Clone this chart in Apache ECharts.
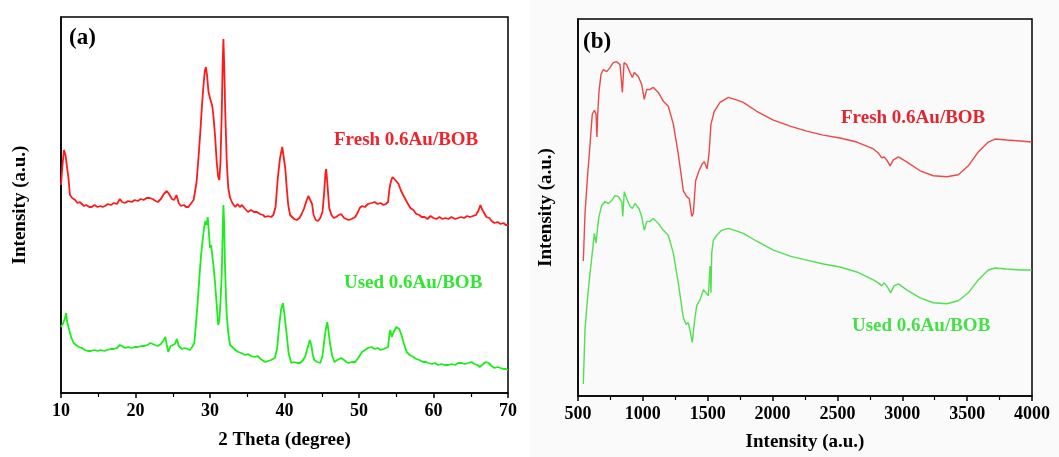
<!DOCTYPE html>
<html>
<head>
<meta charset="utf-8">
<title>XRD and FTIR of 0.6Au/BOB</title>
<script src="https://cdn.jsdelivr.net/npm/echarts@6/dist/echarts.min.js"></script>
<style>
  html, body { margin: 0; padding: 0; background: #ffffff; }
  #chart { width: 1059px; height: 457px; }
</style>
</head>
<body>
<div id="chart"></div>
<script>
// ---- (a) XRD patterns: [2theta (deg), intensity (a.u.)] ----
const xrdFresh = [
  [10.0,208],[10.2,228],[10.4,243],[10.6,238],[10.8,236],[11.0,215],[11.2,198],[11.5,195],[11.9,193],[12.2,190],
  [12.5,191],[12.8,189],[13.1,187],[13.4,188],[13.8,186],[14.1,186],[14.5,188],[14.9,186],[15.3,187],[15.6,186],
  [15.9,187],[16.3,189],[16.7,188],[17.1,190],[17.5,189],[17.9,194],[18.2,191],[18.6,190],[19.0,192],[19.5,191],
  [19.9,193],[20.3,192],[20.7,194],[21.1,193],[21.5,195],[21.9,195],[22.3,194],[22.7,192],[23.0,191],[23.4,194],
  [23.8,199],[24.2,202],[24.5,199],[24.9,194],[25.2,193],[25.5,198],[25.8,190],[26.1,187],[26.5,188],[26.8,186],
  [27.1,186],[27.4,189],[27.8,193],[28.2,211],[28.5,240],[28.7,261],[28.9,285],[29.1,305],[29.3,322],[29.45,326],
  [29.6,318],[29.8,301],[30.0,295],[30.15,291],[30.3,287],[30.45,278],[30.7,255],[30.9,231],[31.1,216],[31.25,213],
  [31.4,230],[31.57,278],[31.7,330],[31.8,354],[31.9,330],[32.05,280],[32.25,231],[32.45,205],[32.7,195],[33.0,190],
  [33.4,186],[33.7,189],[34.0,186],[34.3,188],[34.6,185],[35.1,181],[35.5,183],[35.9,181],[36.3,181],[36.7,179],
  [37.1,178],[37.4,176],[37.8,177],[38.2,176],[38.5,178],[38.8,186],[39.1,215],[39.4,235],[39.7,246],[39.9,244],
  [40.1,225],[40.3,205],[40.5,188],[40.75,178],[41.0,176],[41.3,174],[41.65,173],[42.0,175],[42.3,179],[42.6,184],
  [42.9,191],[43.2,197],[43.45,198],[43.7,189],[43.9,178],[44.2,173],[44.5,172],[44.8,175],[45.1,181],[45.3,198],
  [45.5,220],[45.6,224],[45.8,205],[46.0,185],[46.3,178],[46.6,175],[46.9,176],[47.3,178],[47.6,179],[48.0,175],
  [48.3,174],[48.6,173],[49.0,174],[49.5,176],[49.8,180],[50.1,185],[50.4,187],[50.8,186],[51.2,189],[51.7,190],
  [52.1,191],[52.5,189],[52.9,190],[53.3,188],[53.6,189],[53.9,191],[54.1,205],[54.3,212],[54.5,216],[54.7,214],
  [55.0,212],[55.3,209],[55.6,203],[56.0,197],[56.2,195],[56.5,190],[56.9,185],[57.3,183],[57.7,179],[58.1,178],
  [58.4,176],[58.8,176],[59.2,174],[59.6,177],[60.0,175],[60.4,174],[60.8,176],[61.2,174],[61.6,175],[62.0,174],
  [62.4,176],[62.9,174],[63.3,175],[63.7,176],[64.1,175],[64.5,177],[64.9,176],[65.3,177],[65.7,178],[66.0,182],
  [66.3,188],[66.5,184],[66.8,180],[67.1,176],[67.5,175],[67.8,172],[68.2,170],[68.6,171],[69.0,169],[69.4,170],
  [69.7,168],[70.0,168]
];
const xrdUsed = [
  [10.0,66],[10.3,70],[10.5,74],[10.7,80],[10.8,72],[10.95,70],[11.1,63],[11.4,55],[11.7,50],[12.0,48],
  [12.4,46],[12.8,45],[13.2,43],[13.6,42],[14.0,42],[14.5,43],[14.9,42],[15.3,43],[15.8,42],[16.2,43],
  [16.7,44],[17.1,44],[17.5,45],[17.9,48],[18.2,47],[18.6,45],[19.0,46],[19.5,45],[19.9,46],[20.3,46],
  [20.8,47],[21.2,47],[21.6,48],[22.0,50],[22.2,51],[22.6,48],[23.0,47],[23.4,49],[23.8,53],[24.0,56],
  [24.2,48],[24.4,41],[24.7,47],[25.0,48],[25.3,49],[25.55,54],[25.8,47],[26.2,44],[26.6,45],[27.0,44],
  [27.3,43],[27.6,46],[27.9,50],[28.1,68],[28.35,91],[28.6,118],[28.8,138],[29.0,152],[29.2,165],[29.4,172],
  [29.55,168],[29.7,176],[29.85,160],[30.0,145],[30.15,148],[30.3,138],[30.5,125],[30.7,108],[30.9,88],[31.1,68],
  [31.25,72],[31.4,90],[31.57,118],[31.7,160],[31.8,188],[31.9,170],[32.0,130],[32.15,95],[32.25,78],[32.45,60],
  [32.7,48],[33.0,46],[33.4,43],[33.8,41],[34.2,40],[34.7,38],[35.1,39],[35.5,37],[36.0,36],[36.4,37],
  [36.8,34],[37.4,31],[37.8,32],[38.2,33],[38.7,35],[39.0,44],[39.3,68],[39.55,84],[39.8,90],[40.0,78],
  [40.3,58],[40.55,40],[40.9,30],[41.3,31],[41.7,30],[42.1,30],[42.5,33],[42.8,37],[43.1,45],[43.4,53],
  [43.6,48],[43.8,38],[44.0,33],[44.4,31],[44.8,30],[45.1,37],[45.35,53],[45.55,64],[45.75,71],[45.9,62],
  [46.1,50],[46.4,37],[46.7,31],[47.1,33],[47.6,35],[48.0,33],[48.3,31],[48.6,30],[49.0,31],[49.5,31],
  [49.9,35],[50.4,41],[50.8,43],[51.2,45],[51.7,46],[52.1,44],[52.5,45],[52.9,43],[53.3,44],[53.6,45],
  [53.9,46],[54.1,60],[54.2,63],[54.4,56],[54.6,60],[54.8,62],[55.0,66],[55.2,68],[55.4,64],[55.7,58],
  [56.0,50],[56.4,41],[56.8,38],[57.3,36],[57.7,34],[58.1,33],[58.6,31],[59.0,31],[59.3,30],[59.8,29],
  [60.2,30],[60.6,28],[61.1,29],[61.5,28],[62.0,28],[62.4,29],[62.9,28],[63.3,30],[63.8,30],[64.2,29],
  [64.7,30],[65.1,31],[65.5,29],[65.9,28],[66.2,26],[66.4,25],[66.7,29],[67.0,31],[67.4,30],[67.8,27],
  [68.2,25],[68.6,26],[69.0,25],[69.4,24],[69.7,24],[70.0,23]
];

// ---- (b) FTIR spectra: [wavenumber (cm-1), intensity (a.u.)] ----
const irFresh = [
  [541,136],[554,184],[575,224],[593,254],[610,284],[626,288],[639,284],[646,261],[652,284],[662,307],
  [677,324],[695,329],[721,327],[747,331],[772,336],[798,337],[824,334],[842,306],[855,336],[875,334],
  [901,326],[919,321],[934,326],[965,322],[991,314],[1011,299],[1030,309],[1055,309],[1081,311],[1119,306],
  [1158,297],[1196,292],[1235,274],[1273,244],[1312,207],[1338,201],[1358,199],[1377,181],[1389,184],[1407,217],
  [1433,227],[1458,234],[1474,236],[1495,229],[1510,244],[1525,274],[1551,287],[1595,296],[1659,301],[1710,299],
  [1774,296],[1878,287],[2006,278],[2135,272],[2263,267],[2391,263],[2520,260],[2649,256],[2777,249],[2815,245],
  [2842,240],[2859,241],[2880,238],[2906,232],[2931,238],[2970,241],[3034,236],[3137,227],[3239,222],[3343,221],
  [3432,223],[3509,232],[3586,246],[3663,256],[3715,259],[3805,258],[3908,257],[3998,256]
];
const irUsed = [
  [541,12],[554,67],[575,101],[593,124],[610,144],[626,164],[639,154],[652,171],[662,181],[683,192],
  [708,196],[734,194],[760,197],[785,202],[811,201],[837,196],[845,181],[857,206],[875,199],[901,191],
  [919,189],[939,194],[970,189],[991,181],[1011,167],[1030,176],[1055,176],[1081,179],[1119,174],[1158,167],
  [1196,162],[1235,144],[1273,114],[1312,79],[1333,72],[1350,74],[1364,66],[1381,54],[1397,74],[1415,91],
  [1441,97],[1466,107],[1487,104],[1505,101],[1518,131],[1525,104],[1531,144],[1543,157],[1569,162],[1608,167],
  [1659,169],[1710,167],[1774,164],[1878,156],[2006,147],[2135,141],[2263,137],[2391,133],[2520,130],[2649,125],
  [2777,117],[2815,114],[2842,111],[2859,114],[2880,111],[2911,104],[2936,111],[2970,113],[3034,107],[3137,99],
  [3239,94],[3343,93],[3432,96],[3509,104],[3586,117],[3663,127],[3715,129],[3805,128],[3908,127],[3998,127]
];

const seriesNames = ['Fresh 0.6Au/BOB', 'Used 0.6Au/BOB'];
const panelTags = ['(a)', '(b)'];
const axisTitles = { xrdX: '2 Theta (degree)', irX: 'Intensity (a.u.)', y: 'Intensity (a.u.)' };

const FONT = '"Liberation Serif", "Times New Roman", serif';
const textStyle = (size, color) => ({ fontFamily: FONT, fontWeight: 'bold', fontSize: size, color: color });

const chart = echarts.init(document.getElementById('chart'), null, { renderer: 'canvas' });

function xAxisOf(gridIndex, min, max, interval, name, nameGap) {
  return {
    gridIndex, type: 'value', min, max, interval,
    name, nameLocation: 'middle', nameGap,
    nameTextStyle: textStyle(19, '#000'),
    axisLine: { show: true, onZero: false, lineStyle: { color: '#000', width: 1.5 } },
    axisTick: { show: true, inside: false, length: 5, lineStyle: { color: '#000', width: 1.5 } },
    minorTick: { show: true, splitNumber: 2, length: 4, lineStyle: { color: '#000', width: 1.2 } },
    axisLabel: Object.assign({ margin: 9, showMinLabel: true, showMaxLabel: true, formatter: v => String(v) }, textStyle(18, '#000')),
    splitLine: { show: false }
  };
}
function yAxisOf(gridIndex, max, nameGap) {
  return {
    gridIndex, type: 'value', min: 0, max,
    name: axisTitles.y, nameLocation: 'middle', nameGap,
    nameTextStyle: textStyle(19, '#000'),
    axisLine: { show: true, lineStyle: { color: '#000', width: 1.5 } },
    axisTick: { show: false }, axisLabel: { show: false }, splitLine: { show: false }
  };
}
function lineOf(name, data, idx, color, width) {
  return {
    name, type: 'line', data, xAxisIndex: idx, yAxisIndex: idx,
    showSymbol: false, symbol: 'none', smooth: false, animation: false,
    lineStyle: { color, width }, z: 3
  };
}

chart.setOption({
  animation: false,
  backgroundColor: '#ffffff',
  grid: [
    { left: 61, top: 17, width: 447, height: 376, show: true, borderColor: '#000', borderWidth: 1.5, backgroundColor: '#ffffff' },
    { left: 578, top: 19, width: 454, height: 380, show: true, borderColor: '#000', borderWidth: 1.5, backgroundColor: '#fafafa' }
  ],
  xAxis: [
    xAxisOf(0, 10, 70, 10, axisTitles.xrdX, 38),
    xAxisOf(1, 500, 4000, 500, axisTitles.irX, 37)
  ],
  yAxis: [
    yAxisOf(0, 376, 31),
    yAxisOf(1, 380, 22)
  ],
  graphic: [
    { type: 'rect', z: -10, silent: true, shape: { x: 530, y: 0, width: 529, height: 457 }, style: { fill: '#fafafa' } },
    { type: 'text', z: 10, left: 69, top: 27, style: { text: panelTags[0], font: 'bold 23px ' + FONT, fill: '#000' } },
    { type: 'text', z: 10, left: 583, top: 31, style: { text: panelTags[1], font: 'bold 23px ' + FONT, fill: '#000' } },
    { type: 'text', z: 10, left: 334, top: 131, style: { text: seriesNames[0], font: 'bold 19px ' + FONT, fill: '#f0222a' } },
    { type: 'text', z: 10, left: 344, top: 274, style: { text: seriesNames[1], font: 'bold 19px ' + FONT, fill: '#2ee82e' } },
    { type: 'text', z: 10, left: 841, top: 109, style: { text: seriesNames[0], font: 'bold 19px ' + FONT, fill: '#e0262e' } },
    { type: 'text', z: 10, left: 852, top: 317, style: { text: seriesNames[1], font: 'bold 19px ' + FONT, fill: '#44e044' } }
  ],
  series: [
    lineOf(seriesNames[0], xrdFresh, 0, '#ff1a1a', 1.8),
    lineOf(seriesNames[1], xrdUsed, 0, '#1aee1a', 1.8),
    lineOf(seriesNames[0], irFresh, 1, '#ec4848', 1.4),
    lineOf(seriesNames[1], irUsed, 1, '#50e050', 1.4)
  ]
});
</script>
</body>
</html>
